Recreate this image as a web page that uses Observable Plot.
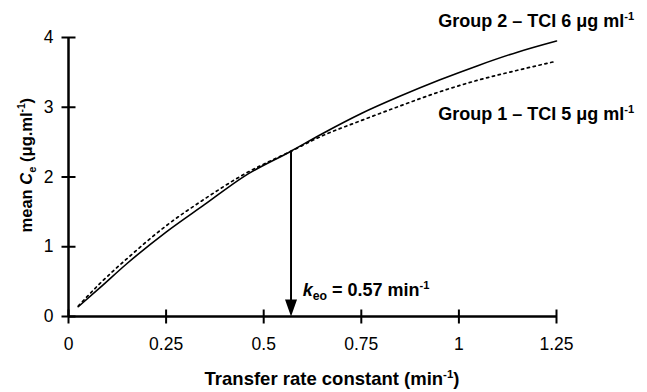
<!DOCTYPE html>
<html><head><meta charset="utf-8">
<script src="https://cdn.jsdelivr.net/npm/d3@7"></script>
<script src="https://cdn.jsdelivr.net/npm/@observablehq/plot@0.6"></script>
<style>
html,body{margin:0;padding:0;background:#fff;}
</style>
</head><body><div id="chart"></div>
<script>
// ---- data ----
const xTicks = [0, 0.25, 0.5, 0.75, 1, 1.25];
const yTicks = [0, 1, 2, 3, 4];

// Group 2 – TCI 6 µg/ml (solid)
const group2K  = [0.025, 0.08, 0.15, 0.25, 0.35, 0.45, 0.57, 0.65, 0.75, 0.85, 0.95, 1.05, 1.15, 1.25];
const group2Ce = [0.14, 0.41, 0.76, 1.21, 1.61, 2.01, 2.37, 2.62, 2.91, 3.16, 3.39, 3.60, 3.79, 3.95];

// Group 1 – TCI 5 µg/ml (dotted)
const group1K  = [0.025, 0.08, 0.15, 0.25, 0.35, 0.45, 0.57, 0.65, 0.75, 0.85, 0.95, 1.05, 1.15, 1.25];
const group1Ce = [0.15, 0.47, 0.83, 1.30, 1.69, 2.04, 2.37, 2.59, 2.81, 3.02, 3.22, 3.39, 3.53, 3.66];

const keo = 0.57;
const keoCe = 2.37;

const labelGroup2 = "Group 2 – TCI 6 μg ml-1";
const labelGroup1 = "Group 1 – TCI 5 μg ml-1";
const labelKeo = "keo = 0.57 min-1";
const labelX = "Transfer rate constant (min-1)";
const labelY = "mean Ce (μg.ml-1)";

// ---- tables ----
const g2 = group2K.map((k, i) => ({k, ce: group2Ce[i]}));
const g1 = group1K.map((k, i) => ({k, ce: group1Ce[i]}));

// custom symbols
const vTick = {draw(ctx) { ctx.moveTo(0, -7); ctx.lineTo(0, 7); }};
const hTick = {draw(ctx) { ctx.moveTo(-7, 0); ctx.lineTo(7, 0); }};
const head = {draw(ctx) { ctx.moveTo(0, 0); ctx.lineTo(-6, -17); ctx.lineTo(6, -17); ctx.closePath(); }};

const FONT = "'Liberation Sans', Arial, sans-serif";

const chart = Plot.plot({
  width: 647,
  height: 392,
  marginLeft: 68,
  marginRight: 91,
  marginTop: 37,
  marginBottom: 76,
  x: {domain: [0, 1.25]},
  y: {domain: [0, 4]},
  style: {fontFamily: FONT, fontSize: "17.5px", color: "black", background: "white"},
  marks: [
    // axis lines
    Plot.ruleY([0], {x1: 0, x2: 1.25, stroke: "black", strokeWidth: 2.5}),
    Plot.ruleX([0], {y1: 0, y2: 4, stroke: "black", strokeWidth: 2.5}),
    // crossing ticks
    Plot.dot(xTicks, {x: d => d, y: 0, symbol: vTick, fill: "none", stroke: "black", strokeWidth: 2}),
    Plot.dot(yTicks, {x: 0, y: d => d, symbol: hTick, fill: "none", stroke: "black", strokeWidth: 2}),
    // tick labels
    Plot.axisX({ticks: xTicks, tickSize: 0, tickPadding: 21, tickFormat: d => String(d), label: null, fontSize: 17.5}),
    Plot.axisY({ticks: yTicks, tickSize: 0, tickPadding: 15, tickFormat: d => String(d), label: null, fontSize: 17.5}),
    // curves
    Plot.line(g1, {x: "k", y: "ce", curve: "monotone-x", stroke: "black", strokeWidth: 1.7, strokeDasharray: "2.2,3.8"}),
    Plot.line(g2, {x: "k", y: "ce", curve: "monotone-x", stroke: "black", strokeWidth: 1.6}),
    // keo arrow
    Plot.ruleX([keo], {y1: 0.1, y2: keoCe, stroke: "black", strokeWidth: 2}),
    Plot.dot([keo], {x: d => d, y: 0, symbol: head, fill: "black", stroke: "none"}),
    // annotations
    Plot.text([labelKeo], {x: keo + 0.03, y: 0.37, text: d => d, textAnchor: "start", fontWeight: "bold", fontSize: 18}),
    Plot.text([labelGroup2], {x: 0.947, y: 4.23, text: d => d, textAnchor: "start", fontWeight: "bold", fontSize: 18}),
    Plot.text([labelGroup1], {x: 0.947, y: 2.9, text: d => d, textAnchor: "start", fontWeight: "bold", fontSize: 18}),
    Plot.text([labelX], {x: 0.675, y: -0.9, text: d => d, fontWeight: "bold", fontSize: 18.5}),
    Plot.text([labelY], {x: -0.108, y: 2.17, text: d => d, rotate: -90, fontWeight: "bold", fontSize: 16.5})
  ]
});

document.getElementById("chart").appendChild(chart);

// rich text: superscripts / subscripts
const rich = {
  [labelGroup2]: 'Group 2 – TCI 6 μg ml<tspan font-size="0.62em" dy="-7">-1</tspan>',
  [labelGroup1]: 'Group 1 – TCI 5 μg ml<tspan font-size="0.62em" dy="-7">-1</tspan>',
  [labelKeo]: '<tspan font-style="italic">k</tspan><tspan font-size="0.68em" dy="4">eo</tspan><tspan dy="-4"> = 0.57 min</tspan><tspan font-size="0.62em" dy="-7">-1</tspan>',
  [labelX]: 'Transfer rate constant (min<tspan font-size="0.62em" dy="-7">-1</tspan><tspan dy="7">)</tspan>',
  [labelY]: 'mean <tspan font-style="italic">C</tspan><tspan font-size="0.68em" dy="4">e</tspan><tspan dy="-4"> (μg.ml</tspan><tspan font-size="0.62em" dy="-7">-1</tspan><tspan dy="7">)</tspan>'
};
d3.select(chart).selectAll("text").each(function() {
  const t = this.textContent;
  if (rich[t]) this.innerHTML = rich[t];
});
</script>
</body></html>
